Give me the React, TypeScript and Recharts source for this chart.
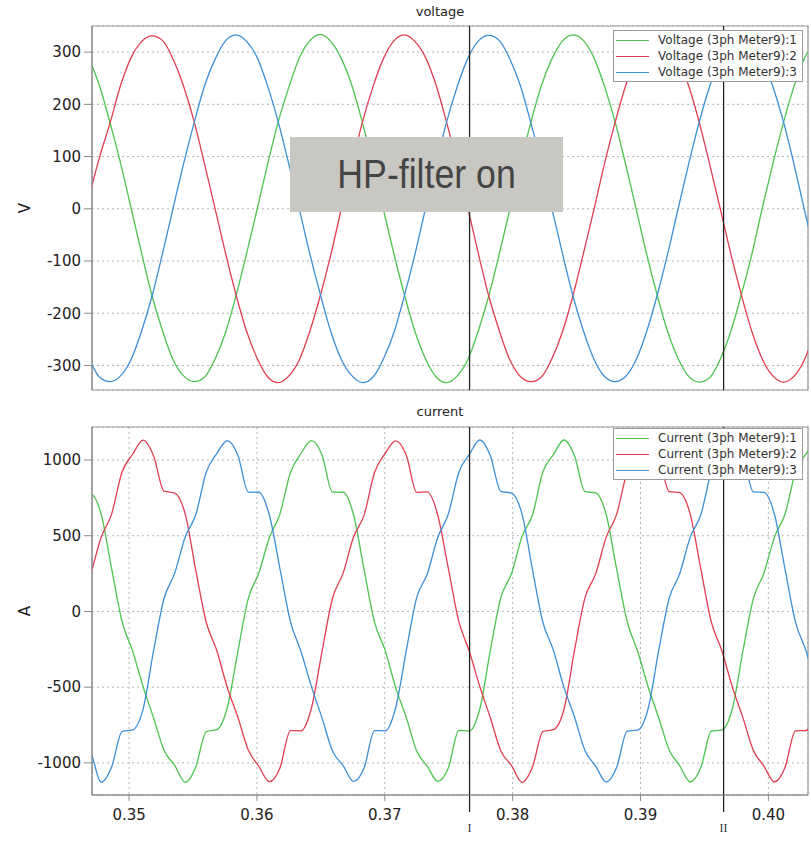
import React from 'react'
import {
  LineChart,
  Line,
  XAxis,
  YAxis,
  CartesianGrid,
  ReferenceLine,
  ReferenceArea,
  Legend,
} from 'recharts'

// sample times (s), voltage grid
const voltTime = [
  0.34686, 0.34768, 0.34851, 0.34933, 0.35015, 0.35098, 0.3518, 0.35262, 0.35344, 0.35427,
  0.35509, 0.35591, 0.35674, 0.35756, 0.35838, 0.35921, 0.36003, 0.36085, 0.36167, 0.3625,
  0.36332, 0.36414, 0.36497, 0.36579, 0.36661, 0.36744, 0.36826, 0.36908, 0.3699, 0.37073,
  0.37155, 0.37237, 0.3732, 0.37402, 0.37484, 0.37567, 0.37649, 0.37731, 0.37813, 0.37896,
  0.37978, 0.3806, 0.38143, 0.38225, 0.38307, 0.38389, 0.38472, 0.38554, 0.38636, 0.38719,
  0.38801, 0.38883, 0.38966, 0.39048, 0.3913, 0.39212, 0.39295, 0.39377, 0.39459, 0.39542,
  0.39624, 0.39706, 0.39789, 0.39871, 0.39953, 0.40035, 0.40118, 0.402, 0.40282, 0.40365,
]

const voltPhase1 = [
  288, 236, 165, 88, 2, -85, -167, -234, -289, -320, -331, -322, -287, -236, -165, -84, 1, 87, 167, 233, 289, 322, 334, 320,
  287, 235, 164, 85, -2, -88, -166, -236, -288, -322, -333, -320, -289, -234, -167, -86, -1, 85, 166, 236, 287, 321, 333, 322,
  289, 234, 167, 86, 0, -87, -165, -235, -287, -321, -332, -323, -288, -235, -164, -87, 2, 86, 165, 234, 288, 320,
]
const voltPhase2 = [
  22, 98, 164, 236, 289, 320, 331, 322, 287, 234, 167, 85, -1, -87, -166, -236, -287, -322, -333, -320, -289, -234, -165, -87,
  1, 85, 167, 234, 288, 322, 333, 320, 289, 236, 165, 86, 2, -85, -167, -234, -289, -321, -331, -322, -287, -236, -166, -85,
  -1, 87, 165, 235, 287, 321, 332, 321, 288, 235, 166, 84, 0, -86, -165, -235, -288, -320, -332, -321, -289, -234,
]
const voltPhase3 = [
  -287, -322, -331, -320, -289, -234, -167, -85, 1, 87, 165, 236, 287, 322, 333, 320, 289, 234, 166, 85, -1, -87, -165, -236,
  -289, -320, -333, -322, -287, -236, -165, -86, 2, 85, 167, 234, 288, 321, 332, 322, 287, 236, 164, 87, 0, -85, -167, -234,
  -288, -321, -331, -321, -289, -235, -166, -87, 1, 86, 166, 235, 289, 320, 333, 321, 288, 234, 167, 86, -2, -86,
]

// sample times (s), current grid
const currTime = [
  0.34616, 0.34698, 0.34781, 0.34863, 0.34945, 0.35028, 0.3511, 0.35192, 0.35274, 0.35357,
  0.35439, 0.35521, 0.35604, 0.35686, 0.35768, 0.35851, 0.35933, 0.36015, 0.36097, 0.3618,
  0.36262, 0.36344, 0.36427, 0.36509, 0.36591, 0.36674, 0.36756, 0.36838, 0.3692, 0.37003,
  0.37085, 0.37167, 0.3725, 0.37332, 0.37414, 0.37497, 0.37579, 0.37661, 0.37743, 0.37826,
  0.37908, 0.3799, 0.38073, 0.38155, 0.38237, 0.38319, 0.38402, 0.38484, 0.38566, 0.38649,
  0.38731, 0.38813, 0.38896, 0.38978, 0.3906, 0.39142, 0.39225, 0.39307, 0.39389, 0.39472,
  0.39554, 0.39636, 0.39719, 0.39801, 0.39883, 0.39965, 0.40048, 0.4013, 0.40212, 0.40295,
  0.40377,
]

const currPhase1 = [
  792, 780, 645, 284, -66, -262, -497, -704, -918, -1016, -1127, -1028, -793, -781, -636, -263, 88, 254, 487, 644, 917, 1043, 1128, 1033,
  788, 787, 637, 277, -72, -257, -503, -697, -923, -1022, -1122, -1034, -786, -789, -644, -255, 93, 247, 494, 637, 923, 1036, 1132, 1027,
  791, 783, 642, 282, -68, -264, -499, -702, -916, -1019, -1126, -1031, -791, -784, -639, -261, 86, 252, 491, 642, 919, 1041, 1129,
]
const currPhase2 = [
  94, 246, 488, 643, 921, 1038, 1131, 1026, 794, 782, 643, 276, -73, -258, -502, -699, -917, -1023, -1124, -1033, -787, -788, -636, -265,
  87, 253, 493, 636, 918, 1044, 1127, 1034, 786, 789, 637, 284, -66, -263, -496, -704, -922, -1016, -1128, -1027, -793, -781, -644, -256,
  91, 248, 489, 641, 923, 1039, 1130, 1029, 791, 784, 641, 279, -71, -259, -501, -701, -919, -1021, -1126, -1031, -789, -786, -638,
]
const currPhase3 = [
  -880, -930, -1127, -1028, -793, -782, -643, -257, 87, 253, 492, 637, 921, 1042, 1128, 1032, 788, 787, 637, 283, -67, -263, -498, -703,
  -922, -1018, -1122, -1033, -787, -788, -636, -264, 93, 247, 488, 644, 918, 1037, 1132, 1027, 793, 781, 644, 277, -73, -257, -503, -697,
  -919, -1021, -1126, -1030, -790, -784, -641, -259, 89, 251, 491, 639, 922, 1040, 1129, 1031, 789, 786, 640, 281, -69, -261, -499,
]

const xTicks = [0.35, 0.36, 0.37, 0.38, 0.39, 0.4]
const xTickLabels = ['0.35', '0.36', '0.37', '0.38', '0.39', '0.40']
const voltTicks = [-300, -200, -100, 0, 100, 200, 300]
const currTicks = [-1000, -500, 0, 500, 1000]
const cursorTimes = [0.37663, 0.3965]
const cursorNames = ['I', 'II']
const voltNames = ['Voltage (3ph Meter9):1', 'Voltage (3ph Meter9):2', 'Voltage (3ph Meter9):3']
const currNames = ['Current (3ph Meter9):1', 'Current (3ph Meter9):2', 'Current (3ph Meter9):3']

const X_DOMAIN: [number, number] = [0.3471, 0.4031]
const VOLT_DOMAIN: [number, number] = [-347, 350]
const CURR_DOMAIN: [number, number] = [-1212, 1218]

const COLORS = ['#4cc44d', '#e23d4f', '#3d8fd8']
const FONT = '"DejaVu Sans", Verdana, sans-serif'

const voltData = voltTime.map((t, i) => ({
  t,
  p1: voltPhase1[i],
  p2: voltPhase2[i],
  p3: voltPhase3[i],
}))

const currData = currTime.map((t, i) => ({
  t,
  p1: currPhase1[i],
  p2: currPhase2[i],
  p3: currPhase3[i],
}))

function PhaseLegend({ names }: { names: string[] }) {
  return (
    <div
      style={{
        border: '1px solid #9c9c9c',
        background: '#fff',
        fontFamily: FONT,
        fontSize: 12,
        color: '#333',
        width: 188,
        padding: '1px 0',
      }}
    >
      {names.map((n, i) => (
        <div key={n} style={{ display: 'flex', alignItems: 'center', height: 16 }}>
          <div style={{ width: 33, marginLeft: 2, borderTop: `1.3px solid ${COLORS[i]}` }} />
          <div style={{ flex: 1, textAlign: 'right', paddingRight: 5, whiteSpace: 'nowrap' }}>{n}</div>
        </div>
      ))}
    </div>
  )
}

function CursorMark(props: any) {
  const { viewBox, text } = props
  if (!viewBox) return null
  const { x, y, height } = viewBox
  return (
    <g>
      <line x1={x} x2={x} y1={y + height} y2={y + height + 17} stroke="#222" strokeWidth={1.3} />
      <text
        x={x}
        y={y + height + 37}
        textAnchor="middle"
        fontFamily='"Liberation Serif", serif'
        fontSize={12}
        fill="#333"
      >
        {text}
      </text>
    </g>
  )
}

const tickStyle = { fontFamily: FONT, fontSize: 15, fill: '#222' }

function PhaseLines() {
  return [1, 2, 3].map((p, i) => (
    <Line
      key={p}
      type="monotone"
      dataKey={`p${p}`}
      stroke={COLORS[i]}
      strokeWidth={1.3}
      dot={false}
      isAnimationActive={false}
    />
  ))
}

export default function App() {
  return (
    <div style={{ position: 'absolute', left: 0, top: 0, width: 811, height: 851, background: '#fff' }}>
      <div style={{ position: 'absolute', top: 4, left: 0, width: 880, textAlign: 'center', fontFamily: FONT, fontSize: 13, color: '#222' }}>
        voltage
      </div>
      <div style={{ position: 'absolute', top: 404, left: 0, width: 880, textAlign: 'center', fontFamily: FONT, fontSize: 13, color: '#222' }}>
        current
      </div>

      <div style={{ position: 'absolute', top: 0, left: 0 }}>
        <LineChart width={811} height={400} data={voltData} margin={{ top: 26, right: 3, bottom: 10, left: 12 }}>
          <CartesianGrid stroke="#b4b4b4" strokeDasharray="2 3" />
          <XAxis
            dataKey="t"
            type="number"
            domain={X_DOMAIN}
            allowDataOverflow
            ticks={xTicks}
            height={0}
            tick={false}
            tickLine={false}
            axisLine={false}
          />
          <YAxis
            type="number"
            domain={VOLT_DOMAIN}
            allowDataOverflow
            ticks={voltTicks}
            width={80}
            tick={tickStyle}
            tickSize={8}
            tickMargin={3}
            stroke="#8a8a8a"
            label={{ value: 'V', angle: -90, position: 'insideLeft', offset: 13, style: { textAnchor: 'middle', fontFamily: FONT, fontSize: 15, fill: '#222' } }}
          />
          <ReferenceArea x1={X_DOMAIN[0]} x2={X_DOMAIN[1]} y1={VOLT_DOMAIN[0]} y2={VOLT_DOMAIN[1]} fill="none" stroke="#9a9a9a" strokeWidth={1.2} />
          {PhaseLines()}
          {cursorTimes.map((c) => (
            <ReferenceLine key={c} x={c} stroke="#222" strokeWidth={1.3} />
          ))}
          <Legend
            layout="vertical"
            align="center"
            verticalAlign="middle"
            wrapperStyle={{ left: 613, top: 30, width: 190, height: 52 }}
            content={() => <PhaseLegend names={voltNames} />}
          />
        </LineChart>
      </div>

      <div style={{ position: 'absolute', top: 400, left: 0 }}>
        <LineChart width={811} height={451} data={currData} margin={{ top: 27, right: 3, bottom: 16, left: 12 }}>
          <CartesianGrid stroke="#b4b4b4" strokeDasharray="2 3" />
          <XAxis
            dataKey="t"
            type="number"
            domain={X_DOMAIN}
            allowDataOverflow
            ticks={xTicks}
            tickFormatter={(v: number) => xTickLabels[xTicks.indexOf(v)] ?? String(v)}
            height={40}
            tick={tickStyle}
            tickSize={6}
            tickMargin={8}
            stroke="#8a8a8a"
          />
          <YAxis
            type="number"
            domain={CURR_DOMAIN}
            allowDataOverflow
            ticks={currTicks}
            width={80}
            tick={tickStyle}
            tickSize={8}
            tickMargin={3}
            stroke="#8a8a8a"
            label={{ value: 'A', angle: -90, position: 'insideLeft', offset: 13, style: { textAnchor: 'middle', fontFamily: FONT, fontSize: 15, fill: '#222' } }}
          />
          <ReferenceArea x1={X_DOMAIN[0]} x2={X_DOMAIN[1]} y1={CURR_DOMAIN[0]} y2={CURR_DOMAIN[1]} fill="none" stroke="#9a9a9a" strokeWidth={1.2} />
          {PhaseLines()}
          {cursorTimes.map((c, i) => (
            <ReferenceLine
              key={c}
              x={c}
              stroke="#222"
              strokeWidth={1.3}
              label={(p: any) => <CursorMark {...p} text={cursorNames[i]} />}
            />
          ))}
          <Legend
            layout="vertical"
            align="center"
            verticalAlign="middle"
            wrapperStyle={{ left: 613, top: 28, width: 190, height: 52 }}
            content={() => <PhaseLegend names={currNames} />}
          />
        </LineChart>
      </div>

      <div
        style={{
          position: 'absolute',
          left: 290,
          top: 137,
          width: 273,
          height: 75,
          background: '#c9c7c2',
          display: 'flex',
          alignItems: 'center',
          justifyContent: 'center',
        }}
      >
        <span
          style={{
            display: 'inline-block',
            fontFamily: '"Liberation Sans", Arial, sans-serif',
            fontSize: 41,
            color: '#444',
            transform: 'scaleX(0.87)',
            whiteSpace: 'nowrap',
          }}
        >
          HP-filter on
        </span>
      </div>
    </div>
  )
}
